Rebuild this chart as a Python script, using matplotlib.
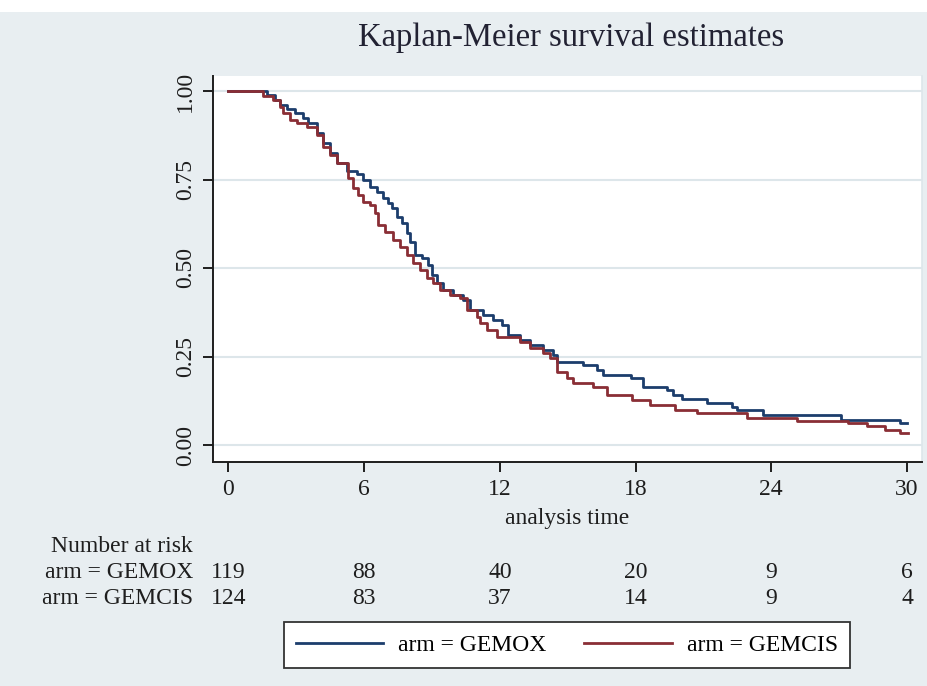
import matplotlib
matplotlib.use("Agg")
import matplotlib.pyplot as plt
from matplotlib.lines import Line2D
from matplotlib.patches import Rectangle
from matplotlib.transforms import blended_transform_factory

# ---------------- data ----------------
gemox_t = [0, 1.69, 2.06, 2.28, 2.57, 2.94, 3.31, 3.53, 3.90, 4.19, 4.49, 4.78,
           5.23, 5.67, 5.96, 6.26, 6.55, 6.84, 7.06, 7.21, 7.44, 7.66, 7.88, 8.02,
           8.24, 8.54, 8.83, 8.98, 9.20, 9.50, 9.94, 10.38, 10.68, 11.26, 11.71,
           12.08, 12.37, 12.89, 13.33, 13.92, 14.36, 14.51, 15.69, 16.28, 16.57,
           17.80, 18.34, 19.37, 19.66, 20.04, 21.14, 22.25, 22.47, 23.64, 27.10,
           29.69]
gemox_s = [1.0, 0.989, 0.975, 0.960, 0.948, 0.937, 0.923, 0.909, 0.880, 0.852,
           0.824, 0.796, 0.775, 0.765, 0.749, 0.730, 0.716, 0.697, 0.683, 0.669,
           0.645, 0.626, 0.598, 0.574, 0.537, 0.527, 0.508, 0.480, 0.457, 0.438,
           0.424, 0.410, 0.381, 0.367, 0.353, 0.339, 0.311, 0.297, 0.283, 0.268,
           0.254, 0.235, 0.226, 0.212, 0.198, 0.188, 0.165, 0.155, 0.141, 0.129,
           0.118, 0.108, 0.099, 0.085, 0.072, 0.063]
gemox_end = 30.0

gemcis_t = [0, 1.54, 1.98, 2.28, 2.42, 2.72, 3.02, 3.46, 3.90, 4.19, 4.49, 4.78,
            5.30, 5.52, 5.74, 5.96, 6.26, 6.48, 6.62, 6.92, 7.29, 7.58, 7.88,
            8.17, 8.47, 8.76, 9.05, 9.35, 9.79, 10.23, 10.53, 10.97, 11.12, 11.41,
            11.86, 12.89, 13.33, 13.92, 14.21, 14.51, 14.95, 15.24, 16.13, 16.72,
            17.83, 18.63, 19.74, 20.70, 22.91, 25.12, 27.40, 28.21, 29.02, 29.69]
gemcis_s = [1.0, 0.986, 0.975, 0.956, 0.937, 0.918, 0.909, 0.899, 0.876, 0.843,
            0.819, 0.796, 0.755, 0.725, 0.706, 0.687, 0.678, 0.655, 0.621, 0.603,
            0.579, 0.560, 0.537, 0.513, 0.494, 0.471, 0.457, 0.438, 0.424, 0.414,
            0.381, 0.362, 0.344, 0.325, 0.306, 0.292, 0.273, 0.259, 0.245, 0.207,
            0.188, 0.174, 0.165, 0.141, 0.127, 0.113, 0.099, 0.090, 0.075, 0.069,
            0.063, 0.054, 0.042, 0.035]
gemcis_end = 30.05

risk_times = [0, 6, 12, 18, 24, 30]
risk_gemox = [119, 88, 40, 20, 9, 6]
risk_gemcis = [124, 83, 37, 14, 9, 4]
y_ticks = [0.0, 0.25, 0.50, 0.75, 1.00]
y_ticklabels = ["0.00", "0.25", "0.50", "0.75", "1.00"]
series_labels = ["arm = GEMOX", "arm = GEMCIS"]

# ---------------- style ----------------
W, H = 928, 686
BG = "#E8EEF1"
GRID = "#DDE6EA"
BLUE = "#1C3D6C"
RED = "#8A2E35"
INK = "#1E1E1E"
FS = 17
plt.rcParams["font.family"] = ["Liberation Serif", "DejaVu Serif"]

fig = plt.figure(figsize=(W / 100, H / 100), dpi=100)
fig.patch.set_facecolor("white")
fig.patches.append(Rectangle((0, 0), 1, (H - 12) / H, transform=fig.transFigure,
                             facecolor=BG, edgecolor="none", zorder=-10))

def fx(px):
    return px / W

def fy(py):
    return (H - py) / H

L, R, T, B = 213, 922, 76, 462
ax = fig.add_axes([fx(L), fy(B), fx(R) - fx(L), fy(T) - fy(B)])
ax.set_facecolor("white")

# scale: tick 0 at x=228.5, tick 30 at x=907; S=1 at y=91, S=0 at y=445
ppu = (907 - 228.5) / 30
ax.set_xlim((L - 228.5) / ppu, (R - 228.5) / ppu)
ppy = 354
ax.set_ylim((445 - B) / ppy, (445 - T) / ppy)

ax.step(gemox_t + [gemox_end], gemox_s + [gemox_s[-1]], where="post",
        color=BLUE, lw=2.0, zorder=3)
ax.step(gemcis_t + [gemcis_end], gemcis_s + [gemcis_s[-1]], where="post",
        color=RED, lw=2.0, zorder=3)

ax.set_yticks(y_ticks)
ax.set_yticklabels(y_ticklabels, rotation=90, va="center")
ax.set_xticks(risk_times)
ax.yaxis.grid(True, color=GRID, lw=1.5)
ax.xaxis.grid(False)
ax.set_axisbelow(True)
ax.spines["top"].set_visible(False)
ax.spines["right"].set_color(GRID)
ax.spines["right"].set_linewidth(1.2)
for s in ["left", "bottom"]:
    ax.spines[s].set_color(INK)
    ax.spines[s].set_linewidth(1.4)
ax.tick_params(axis="both", direction="out", length=7, width=1.4,
               color=INK, labelsize=FS, labelcolor=INK)
ax.tick_params(axis="x", pad=5)
ax.tick_params(axis="y", pad=5)
ax.set_xlabel("analysis time", fontsize=FS, color=INK, labelpad=6)

fig.text(fx(571), fy(38), "Kaplan-Meier survival estimates", ha="center",
         va="center", fontsize=23.5, color="#222233")

# risk table
tr = blended_transform_factory(ax.transData, fig.transFigure)
fig.text(fx(193), fy(546), "Number at risk", ha="right", va="center",
         fontsize=FS, color=INK)
for lab, vals, ypx in [(series_labels[0], risk_gemox, 573),
                       (series_labels[1], risk_gemcis, 599)]:
    fig.text(fx(193), fy(ypx), lab, ha="right", va="center", fontsize=FS,
             color=INK)
    for t, v in zip(risk_times, vals):
        ax.text(t, fy(ypx), str(v), transform=tr, ha="center", va="center",
                fontsize=FS, color=INK, clip_on=False)

handles = [Line2D([], [], color=BLUE, lw=2.0), Line2D([], [], color=RED, lw=2.0)]
leg = fig.legend(handles, series_labels, loc="center", ncol=2,
                 bbox_to_anchor=(fx(567), fy(645)), fontsize=FS,
                 frameon=True, fancybox=False, edgecolor="#333333",
                 facecolor="white", framealpha=1, handlelength=3.7,
                 handletextpad=0.65, columnspacing=1.6, borderpad=0.5,
                 borderaxespad=0)
leg.get_frame().set_linewidth(1.3)

fig.savefig("out.png", dpi=100, facecolor=fig.get_facecolor())
